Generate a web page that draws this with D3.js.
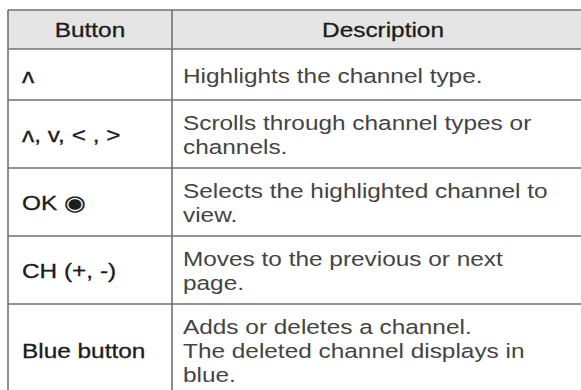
<!DOCTYPE html>
<html>
<head>
<meta charset="utf-8">
<script src="https://cdn.jsdelivr.net/npm/d3@7"></script>
<style>
  html, body { margin: 0; padding: 0; background: #ffffff; overflow: hidden; }
  svg { display: block; }
</style>
</head>
<body>
<div id="chart"></div>
<script>
// ---- data ----
const headers = ["Button", "Description"];
const buttons = ["\u028C", "\u028C,  v, < , >", "OK \u25C9", "CH (+, -)", "Blue button"];
const descriptions = [
  ["Highlights the channel type."],
  ["Scrolls through channel types or", "channels."],
  ["Selects the highlighted channel to", "view."],
  ["Moves to the previous or next", "page."],
  ["Adds or deletes a channel.", "The deleted channel displays in", "blue."]
];

(function () {
const W = 581, H = 390;
const tLeft = 8, tTop = 10, divider = 172, tRight = 594;
const headerH = 39, lineH = 24.3, padV = 10, minRowH = 51;
const font = "'Liberation Sans', Arial, Helvetica, sans-serif";
const sx = 1.19;

const svg = d3.select("#chart").append("svg")
  .attr("width", W).attr("height", H);

const rows = buttons.map((b, i) => ({ button: b, lines: descriptions[i] }));
let y = tTop + headerH;
rows.forEach(r => {
  r.h = Math.max(minRowH, Math.round(r.lines.length * lineH + 2 * padV - 1));
  r.y = y;
  y += r.h;
});

const x = d3.scaleOrdinal().domain(headers).range([tLeft, divider]);
const colW = d3.scaleOrdinal().domain(headers).range([divider - tLeft, tRight - divider]);

svg.append("rect")
  .attr("x", tLeft).attr("y", tTop)
  .attr("width", tRight - tLeft).attr("height", headerH)
  .attr("fill", "#e5e5e5");

function medium(sel) {
  return sel.attr("font-family", font)
    .attr("fill", "#1c1c1c")
    .attr("stroke", "#1c1c1c")
    .attr("stroke-width", 0.3)
    .attr("paint-order", "stroke");
}

medium(svg.selectAll("text.hdr").data(headers).join("text")
  .attr("class", "hdr")
  .attr("transform", d => `translate(${x(d) + colW(d) / 2},${tTop + headerH / 2 + 7.5}) scale(${sx},1)`)
  .attr("text-anchor", "middle")
  .attr("font-size", 20.5)
  .text(d => d));

medium(svg.selectAll("text.btn").data(rows).join("text")
  .attr("class", "btn")
  .attr("transform", d => `translate(${tLeft + 14},${d.y + d.h / 2 + 8}) scale(${sx},1)`)
  .attr("font-size", 20.5)
  .text(d => d.button));

const dg = svg.selectAll("g.desc").data(rows).join("g").attr("class", "desc");
dg.each(function(d) {
  const n = d.lines.length;
  const firstBase = d.y + d.h / 2 - (n - 1) * lineH / 2 + 8;
  d3.select(this).selectAll("text").data(d.lines).join("text")
    .attr("transform", (t, j) => `translate(${divider + 11},${firstBase + j * lineH}) scale(${sx},1)`)
    .attr("font-family", font)
    .attr("font-size", 20.5)
    .attr("fill", "#444444")
    .text(t => t);
});

const lineColor = "#707070", sw = 1.6;
const hLines = [tTop, tTop + headerH].concat(rows.map(r => r.y + r.h));
svg.selectAll("line.h").data(hLines).join("line")
  .attr("class", "h")
  .attr("x1", tLeft).attr("x2", tRight)
  .attr("y1", d => d).attr("y2", d => d)
  .attr("stroke", lineColor).attr("stroke-width", sw);
svg.selectAll("line.v").data([tLeft, divider]).join("line")
  .attr("class", "v")
  .attr("x1", d => d).attr("x2", d => d)
  .attr("y1", tTop).attr("y2", y)
  .attr("stroke", lineColor).attr("stroke-width", sw);
})();
</script>
</body>
</html>
